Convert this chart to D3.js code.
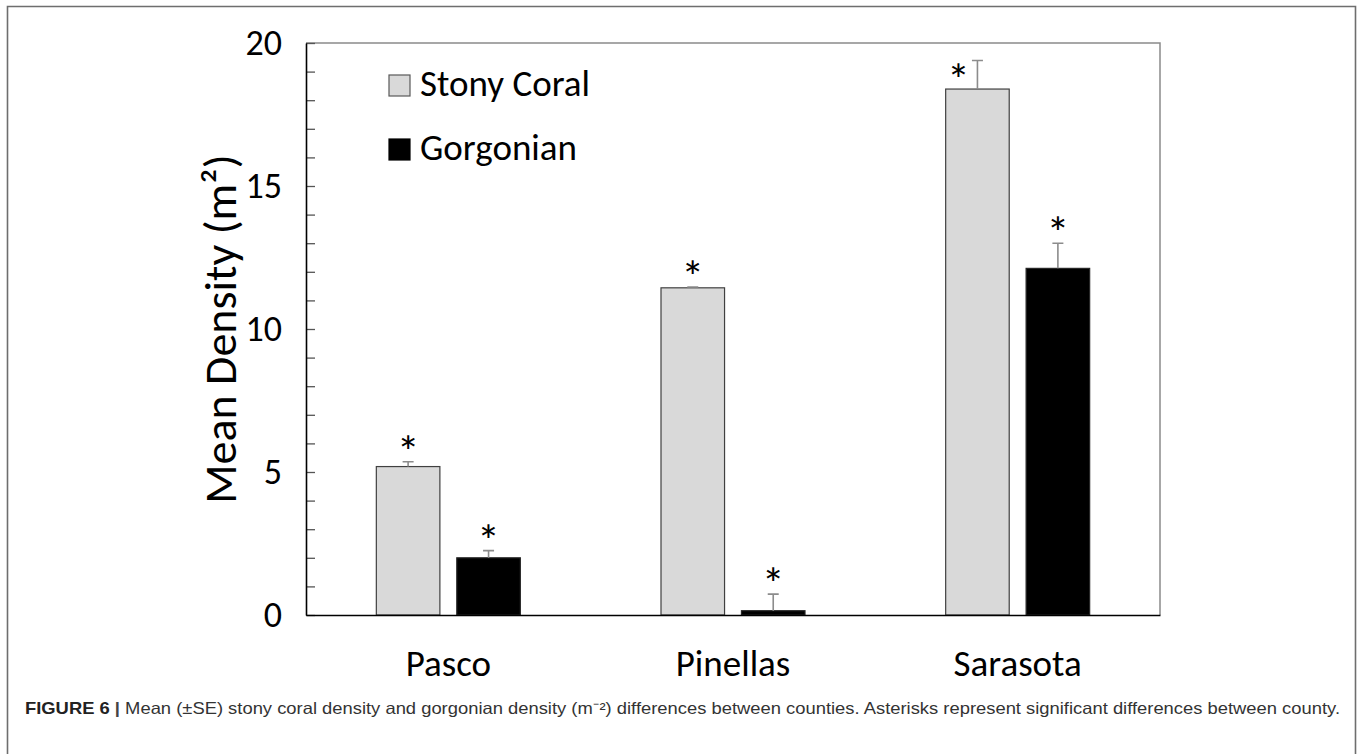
<!DOCTYPE html>
<html>
<head>
<meta charset="utf-8">
<script src="https://cdn.jsdelivr.net/npm/d3@7"></script>
<style>
  html, body { margin: 0; padding: 0; background: #fff; }
  svg { display: block; }
</style>
</head>
<body>
<svg id="chart" width="1362" height="754"></svg>
<script>
// ---- data ----
const categories = ["Pasco", "Pinellas", "Sarasota"];
const seriesNames = ["Stony Coral", "Gorgonian"];
const stonyMeans = [5.19, 11.44, 18.39];
const stonySE = [0.17, 0.03, 1.0];
const gorgonianMeans = [2.0, 0.15, 12.12];
const gorgonianSE = [0.25, 0.58, 0.88];
const significant = [[true, true], [true, true], [true, true]];
const yTickLabels = [0, 5, 10, 15, 20];
const yMinorTicks = d3.range(0, 21, 1);
const yTitle = "Mean Density (m²)";
const captionBold = "FIGURE 6 | ";
const captionText = "Mean (±SE) stony coral density and gorgonian density (m⁻²) differences between counties. Asterisks represent significant differences between county.";

const seriesColors = ["#d9d9d9", "#000000"];
const seriesStroke = ["#404040", "#262626"];

const data = categories.map((c, i) => ({
  category: c,
  values: [
    { series: seriesNames[0], mean: stonyMeans[i], se: stonySE[i], sig: significant[i][0], idx: 0 },
    { series: seriesNames[1], mean: gorgonianMeans[i], se: gorgonianSE[i], sig: significant[i][1], idx: 1 }
  ]
}));

const svg = d3.select("#chart");
const font = "Carlito, Lato, sans-serif";

// outer figure frame
svg.append("path")
  .attr("d", "M7.5,760 V6.5 H1355.5 V760")
  .attr("fill", "none").attr("stroke", "#6e6e6e").attr("stroke-width", 1.6);

const plot = { left: 306, right: 1160, top: 43, bottom: 615 };

const y = d3.scaleLinear().domain([0, 20]).range([plot.bottom, plot.top]);
const x0 = d3.scaleBand().domain(categories).range([plot.left, plot.right]).padding(0);
const groupWidth = 144;
const x1 = d3.scaleBand().domain(seriesNames).range([0, groupWidth]).paddingInner(0.21);
const groupOffset = (x0.bandwidth() - groupWidth) / 2;

// plot frame top and right (gray)
svg.append("path")
  .attr("d", `M${plot.left},${plot.top} H${plot.right} V${plot.bottom}`)
  .attr("fill", "none").attr("stroke", "#8a8a8a").attr("stroke-width", 1.5);

// bars
const groups = svg.append("g").selectAll("g").data(data).join("g")
  .attr("transform", d => `translate(${x0(d.category) + groupOffset},0)`);

groups.selectAll("rect").data(d => d.values).join("rect")
  .attr("x", d => x1(d.series))
  .attr("y", d => y(d.mean))
  .attr("width", x1.bandwidth())
  .attr("height", d => y(0) - y(d.mean))
  .attr("fill", d => seriesColors[d.idx])
  .attr("stroke", d => seriesStroke[d.idx])
  .attr("stroke-width", 1.2);

// error bars (upper only)
const capHalf = 5.5;
groups.selectAll("path.err").data(d => d.values).join("path")
  .attr("class", "err")
  .attr("d", d => {
    const cx = x1(d.series) + x1.bandwidth() / 2;
    const yt = y(d.mean + d.se), yb = y(d.mean);
    return `M${cx},${yb} V${yt} M${cx - capHalf},${yt} H${cx + capHalf}`;
  })
  .attr("fill", "none").attr("stroke", "#8c8c8c").attr("stroke-width", 1.6);

// asterisks
groups.selectAll("text.sig").data(d => d.values.filter(v => v.sig)).join("text")
  .attr("class", "sig")
  .each(function(d) {
    const cx = x1(d.series) + x1.bandwidth() / 2;
    let ay = y(d.mean + d.se) - 18;
    let ax = cx;
    if (ay < plot.top + 22) { // no room above: place beside the error bar
      ax = cx - 19;
      ay = y(d.mean) - 17;
    }
    d3.select(this).attr("x", ax).attr("y", ay + 23);
  })
  .attr("text-anchor", "middle")
  .attr("font-family", font).attr("font-size", 46)
  .attr("fill", "#000")
  .text("*");

// y axis: minor ticks (inward)
svg.append("g")
  .attr("transform", `translate(${plot.left},0)`)
  .call(d3.axisLeft(y).tickValues(yMinorTicks).tickSizeInner(-9).tickSizeOuter(0).tickFormat(""))
  .call(g => g.select(".domain").remove())
  .call(g => g.selectAll("line").attr("stroke", "#555").attr("stroke-width", 1.3));

// y axis: labels
svg.append("g")
  .attr("transform", `translate(${plot.left},0)`)
  .call(d3.axisLeft(y).tickValues(yTickLabels).tickSizeInner(0).tickSizeOuter(0).tickPadding(24).tickFormat(d3.format("d")))
  .call(g => g.select(".domain").attr("stroke", "#000").attr("stroke-width", 1.6))
  .call(g => g.selectAll("text").attr("font-family", font).attr("font-size", 36).attr("fill", "#000"));

// x axis
svg.append("g")
  .attr("transform", `translate(0,${plot.bottom})`)
  .call(d3.axisBottom(x0).tickSize(0).tickPadding(35))
  .call(g => g.select(".domain").attr("stroke", "#000").attr("stroke-width", 1.6))
  .call(g => g.selectAll("text").attr("font-family", font).attr("font-size", 37).attr("fill", "#000"));

// y title
svg.append("text")
  .attr("transform", `translate(236,${(plot.top + plot.bottom) / 2}) rotate(-90)`)
  .attr("text-anchor", "middle")
  .attr("font-family", font).attr("font-size", 46)
  .attr("fill", "#000")
  .text(yTitle);

// legend
const legend = svg.append("g").attr("transform", "translate(389,75)");
const li = legend.selectAll("g").data(seriesNames).join("g")
  .attr("transform", (d, i) => `translate(0,${i * 64})`);
li.append("rect")
  .attr("width", 21).attr("height", 21)
  .attr("fill", (d, i) => seriesColors[i])
  .attr("stroke", (d, i) => i === 0 ? "#595959" : "#000")
  .attr("stroke-width", 1.2);
li.append("text")
  .attr("x", 31).attr("y", 21)
  .attr("font-family", font).attr("font-size", 37)
  .attr("fill", "#000")
  .text(d => d);

// caption
const cap = svg.append("text")
  .attr("x", 25).attr("y", 714)
  .attr("font-family", "'Liberation Sans', Arial, sans-serif")
  .attr("font-size", 16.5)
  .attr("textLength", 1315)
  .attr("lengthAdjust", "spacingAndGlyphs")
  .attr("fill", "#222");
cap.append("tspan").attr("font-weight", "bold").text("FIGURE 6 ");
cap.append("tspan").attr("font-weight", "bold").attr("fill", "#444").text("| ");
cap.append("tspan").attr("fill", "#333").text(captionText);
</script>
</body>
</html>
